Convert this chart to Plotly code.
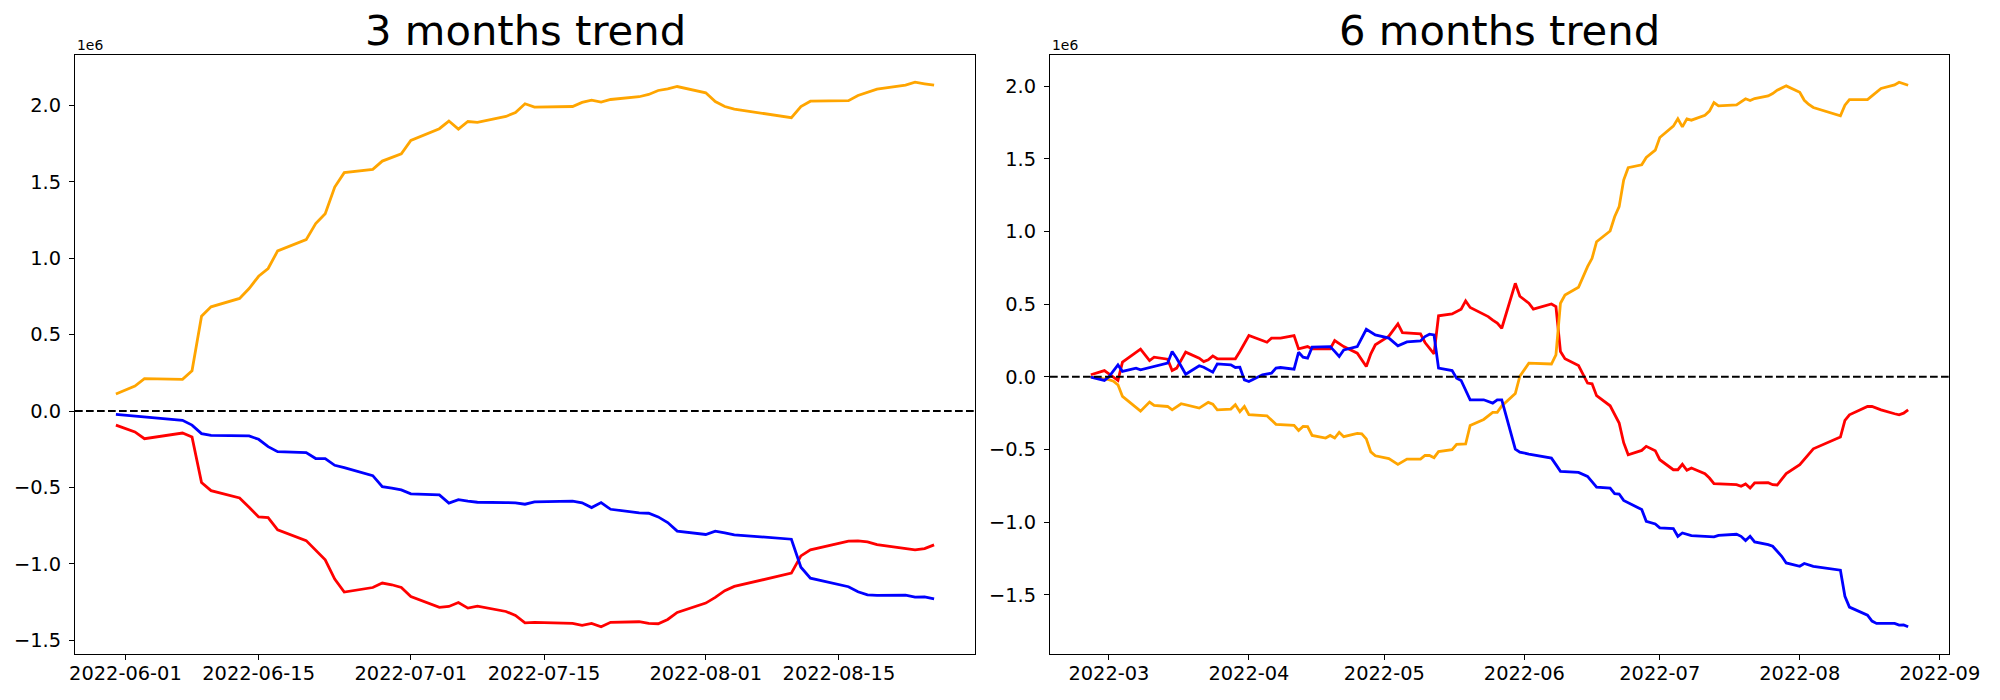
import pandas as pd
import plotly.graph_objects as go

# ---------------- 3 months panel (values in units of 1e6) ----------------
dates_3m = ["2022-05-31", "2022-06-01", "2022-06-02", "2022-06-03", "2022-06-07", "2022-06-08",
            "2022-06-09", "2022-06-10", "2022-06-13", "2022-06-14", "2022-06-15", "2022-06-16",
            "2022-06-17", "2022-06-20", "2022-06-21", "2022-06-22", "2022-06-23", "2022-06-24",
            "2022-06-27", "2022-06-28", "2022-06-29", "2022-06-30", "2022-07-01", "2022-07-04",
            "2022-07-05", "2022-07-06", "2022-07-07", "2022-07-08", "2022-07-11", "2022-07-12",
            "2022-07-13", "2022-07-14", "2022-07-18", "2022-07-19", "2022-07-20", "2022-07-21",
            "2022-07-22", "2022-07-25", "2022-07-26", "2022-07-27", "2022-07-28", "2022-07-29",
            "2022-08-01", "2022-08-02", "2022-08-03", "2022-08-04", "2022-08-10", "2022-08-11",
            "2022-08-12", "2022-08-16", "2022-08-17", "2022-08-18", "2022-08-19", "2022-08-22",
            "2022-08-23", "2022-08-24", "2022-08-25"]

orange_3m = [0.111, 0.137, 0.163, 0.212, 0.207, 0.263, 0.621, 0.682, 0.737, 0.802, 0.882, 0.933,
             1.048, 1.122, 1.227, 1.292, 1.466, 1.560, 1.582, 1.636, 1.658, 1.684, 1.771, 1.848,
             1.898, 1.845, 1.895, 1.889, 1.928, 1.954, 2.011, 1.989, 1.993, 2.020, 2.035, 2.022,
             2.039, 2.057, 2.072, 2.098, 2.109, 2.124, 2.083, 2.026, 1.993, 1.976, 1.920, 1.993,
             2.028, 2.031, 2.065, 2.088, 2.107, 2.133, 2.152, 2.142, 2.133]

blue_3m = [-0.022, -0.027, -0.031, -0.036, -0.061, -0.092, -0.148, -0.159, -0.161, -0.163, -0.185, -0.233,
           -0.266, -0.272, -0.311, -0.311, -0.355, -0.370, -0.423, -0.495, -0.505, -0.516, -0.542, -0.549,
           -0.603, -0.580, -0.590, -0.597, -0.599, -0.601, -0.610, -0.595, -0.590, -0.601, -0.632, -0.599,
           -0.643, -0.667, -0.669, -0.693, -0.730, -0.786, -0.808, -0.786, -0.797, -0.810, -0.839, -1.022,
           -1.094, -1.150, -1.183, -1.203, -1.207, -1.205, -1.218, -1.216, -1.229]

red_3m = [-0.092, -0.114, -0.137, -0.181, -0.144, -0.170, -0.468, -0.521, -0.569, -0.630, -0.693, -0.697,
          -0.778, -0.848, -0.908, -0.974, -1.100, -1.185, -1.155, -1.126, -1.137, -1.155, -1.214, -1.285,
          -1.279, -1.253, -1.290, -1.277, -1.312, -1.338, -1.386, -1.383, -1.390, -1.403, -1.390, -1.412,
          -1.383, -1.379, -1.390, -1.392, -1.364, -1.318, -1.257, -1.220, -1.176, -1.148, -1.061, -0.948,
          -0.908, -0.852, -0.850, -0.856, -0.874, -0.900, -0.908, -0.900, -0.876]

ticks_3m = ["2022-06-01", "2022-06-15", "2022-07-01", "2022-07-15", "2022-08-01", "2022-08-15"]

# ---------------- 6 months panel (values in units of 1e6) ----------------
orange_6m_dates = ["2022-02-25", "2022-02-28", "2022-03-01", "2022-03-02", "2022-03-03", "2022-03-04",
                   "2022-03-08", "2022-03-10", "2022-03-11", "2022-03-14", "2022-03-15", "2022-03-17",
                   "2022-03-21", "2022-03-23", "2022-03-24", "2022-03-25", "2022-03-28", "2022-03-29",
                   "2022-03-30", "2022-03-31", "2022-04-01", "2022-04-05", "2022-04-07", "2022-04-11",
                   "2022-04-12", "2022-04-13", "2022-04-14", "2022-04-15", "2022-04-18", "2022-04-19",
                   "2022-04-20", "2022-04-21", "2022-04-22", "2022-04-25", "2022-04-26", "2022-04-27",
                   "2022-04-28", "2022-04-29", "2022-05-02", "2022-05-04", "2022-05-06", "2022-05-09",
                   "2022-05-10", "2022-05-11", "2022-05-12", "2022-05-13", "2022-05-16", "2022-05-17",
                   "2022-05-19", "2022-05-20", "2022-05-23", "2022-05-25", "2022-05-26", "2022-05-27",
                   "2022-05-30", "2022-05-31", "2022-06-01", "2022-06-02", "2022-06-07", "2022-06-08",
                   "2022-06-09", "2022-06-10", "2022-06-13", "2022-06-15", "2022-06-16", "2022-06-17",
                   "2022-06-20", "2022-06-21", "2022-06-22", "2022-06-23", "2022-06-24", "2022-06-27",
                   "2022-06-28", "2022-06-30", "2022-07-01", "2022-07-04", "2022-07-05", "2022-07-06",
                   "2022-07-07", "2022-07-08", "2022-07-11", "2022-07-12", "2022-07-13", "2022-07-14",
                   "2022-07-18", "2022-07-20", "2022-07-21", "2022-07-22", "2022-07-25", "2022-07-26",
                   "2022-07-27", "2022-07-29", "2022-08-01", "2022-08-02", "2022-08-03", "2022-08-04",
                   "2022-08-10", "2022-08-11", "2022-08-12", "2022-08-16", "2022-08-17", "2022-08-19",
                   "2022-08-22", "2022-08-23", "2022-08-25"]
orange_6m = [0.000, -0.012, -0.020, -0.030, -0.055, -0.135,
             -0.236, -0.174, -0.197, -0.204, -0.227, -0.185,
             -0.215, -0.176, -0.188, -0.227, -0.222, -0.192,
             -0.240, -0.204, -0.261, -0.268, -0.327, -0.334,
             -0.369, -0.341, -0.343, -0.403, -0.421, -0.403,
             -0.421, -0.382, -0.412, -0.389, -0.392, -0.427,
             -0.516, -0.543, -0.563, -0.602, -0.566, -0.566,
             -0.541, -0.541, -0.556, -0.514, -0.501, -0.464,
             -0.462, -0.334, -0.293, -0.245, -0.244, -0.200,
             -0.115, 0.004, 0.048, 0.094, 0.088, 0.151,
             0.506, 0.563, 0.616, 0.758, 0.815, 0.929,
             1.003, 1.101, 1.170, 1.353, 1.438, 1.458,
             1.509, 1.559, 1.646, 1.724, 1.774, 1.719,
             1.774, 1.765, 1.799, 1.827, 1.886, 1.863,
             1.870, 1.912, 1.900, 1.914, 1.932, 1.948,
             1.971, 2.001, 1.957, 1.902, 1.873, 1.852,
             1.795, 1.868, 1.907, 1.907, 1.932, 1.983,
             2.008, 2.026, 2.005]

red_6m_dates = ["2022-02-25", "2022-02-28", "2022-03-01", "2022-03-03", "2022-03-04", "2022-03-08",
                "2022-03-10", "2022-03-11", "2022-03-14", "2022-03-15", "2022-03-16", "2022-03-18",
                "2022-03-21", "2022-03-22", "2022-03-23", "2022-03-24", "2022-03-25", "2022-03-29",
                "2022-03-30", "2022-04-01", "2022-04-05", "2022-04-06", "2022-04-08", "2022-04-11",
                "2022-04-12", "2022-04-14", "2022-04-15", "2022-04-19", "2022-04-20", "2022-04-22",
                "2022-04-25", "2022-04-27", "2022-04-28", "2022-04-29", "2022-05-02", "2022-05-04",
                "2022-05-05", "2022-05-09", "2022-05-10", "2022-05-11", "2022-05-12", "2022-05-13",
                "2022-05-16", "2022-05-18", "2022-05-19", "2022-05-20", "2022-05-24", "2022-05-25",
                "2022-05-26", "2022-05-27", "2022-05-30", "2022-05-31", "2022-06-02", "2022-06-03",
                "2022-06-07", "2022-06-08", "2022-06-09", "2022-06-10", "2022-06-13", "2022-06-15",
                "2022-06-16", "2022-06-17", "2022-06-20", "2022-06-22", "2022-06-23", "2022-06-24",
                "2022-06-27", "2022-06-28", "2022-06-30", "2022-07-01", "2022-07-04", "2022-07-05",
                "2022-07-06", "2022-07-07", "2022-07-08", "2022-07-11", "2022-07-12", "2022-07-13",
                "2022-07-18", "2022-07-19", "2022-07-20", "2022-07-21", "2022-07-22", "2022-07-25",
                "2022-07-26", "2022-07-27", "2022-07-29", "2022-08-01", "2022-08-03", "2022-08-04",
                "2022-08-10", "2022-08-11", "2022-08-12", "2022-08-16", "2022-08-17", "2022-08-19",
                "2022-08-22", "2022-08-23", "2022-08-24", "2022-08-25"]
red_6m = [0.014, 0.043, 0.021, -0.025, 0.101, 0.190,
          0.112, 0.135, 0.121, 0.043, 0.060, 0.170,
          0.128, 0.105, 0.117, 0.144, 0.124, 0.124,
          0.174, 0.284, 0.238, 0.266, 0.266, 0.284,
          0.192, 0.208, 0.192, 0.192, 0.249, 0.208,
          0.163, 0.071, 0.158, 0.220, 0.280, 0.364,
          0.304, 0.295, 0.236, 0.197, 0.158, 0.420,
          0.432, 0.465, 0.522, 0.477, 0.414, 0.390,
          0.369, 0.334, 0.643, 0.554, 0.506, 0.465,
          0.501, 0.483, 0.174, 0.125, 0.077, -0.043,
          -0.048, -0.130, -0.199, -0.318, -0.453, -0.536,
          -0.506, -0.478, -0.508, -0.570, -0.639, -0.639,
          -0.602, -0.643, -0.627, -0.666, -0.696, -0.735,
          -0.742, -0.753, -0.737, -0.765, -0.730, -0.728,
          -0.742, -0.744, -0.666, -0.604, -0.531, -0.495,
          -0.414, -0.300, -0.261, -0.204, -0.204, -0.227,
          -0.254, -0.261, -0.250, -0.227]

blue_6m_dates = ["2022-02-25", "2022-02-28", "2022-03-01", "2022-03-03", "2022-03-04", "2022-03-07",
                 "2022-03-08", "2022-03-14", "2022-03-15", "2022-03-16", "2022-03-18", "2022-03-21",
                 "2022-03-22", "2022-03-24", "2022-03-25", "2022-03-28", "2022-03-29", "2022-03-30",
                 "2022-03-31", "2022-04-01", "2022-04-04", "2022-04-06", "2022-04-07", "2022-04-08",
                 "2022-04-11", "2022-04-12", "2022-04-13", "2022-04-14", "2022-04-15", "2022-04-19",
                 "2022-04-20", "2022-04-21", "2022-04-22", "2022-04-25", "2022-04-27", "2022-04-29",
                 "2022-05-02", "2022-05-04", "2022-05-06", "2022-05-09", "2022-05-10", "2022-05-11",
                 "2022-05-12", "2022-05-13", "2022-05-16", "2022-05-17", "2022-05-18", "2022-05-20",
                 "2022-05-23", "2022-05-25", "2022-05-26", "2022-05-27", "2022-05-30", "2022-05-31",
                 "2022-06-02", "2022-06-07", "2022-06-08", "2022-06-09", "2022-06-13", "2022-06-15",
                 "2022-06-17", "2022-06-20", "2022-06-21", "2022-06-22", "2022-06-23", "2022-06-27",
                 "2022-06-28", "2022-06-30", "2022-07-01", "2022-07-04", "2022-07-05", "2022-07-06",
                 "2022-07-08", "2022-07-13", "2022-07-14", "2022-07-18", "2022-07-19", "2022-07-20",
                 "2022-07-21", "2022-07-22", "2022-07-25", "2022-07-26", "2022-07-28", "2022-07-29",
                 "2022-08-01", "2022-08-02", "2022-08-04", "2022-08-10", "2022-08-11", "2022-08-12",
                 "2022-08-16", "2022-08-17", "2022-08-18", "2022-08-22", "2022-08-23", "2022-08-24",
                 "2022-08-25"]
blue_6m = [-0.002, -0.025, 0.000, 0.082, 0.037, 0.060,
           0.048, 0.094, 0.174, 0.128, 0.018, 0.076,
           0.066, 0.032, 0.089, 0.082, 0.064, 0.066,
           -0.021, -0.032, 0.014, 0.025, 0.060, 0.064,
           0.053, 0.169, 0.135, 0.128, 0.204, 0.208,
           0.175, 0.140, 0.185, 0.208, 0.327, 0.288,
           0.266, 0.213, 0.240, 0.247, 0.277, 0.293,
           0.288, 0.060, 0.043, -0.009, -0.025, -0.158,
           -0.158, -0.181, -0.158, -0.158, -0.497, -0.518,
           -0.531, -0.559, -0.604, -0.650, -0.657, -0.685,
           -0.758, -0.765, -0.804, -0.806, -0.850, -0.913,
           -0.994, -1.012, -1.039, -1.044, -1.097, -1.074,
           -1.092, -1.101, -1.090, -1.083, -1.097, -1.126,
           -1.097, -1.135, -1.154, -1.165, -1.234, -1.280,
           -1.303, -1.284, -1.303, -1.330, -1.509, -1.584,
           -1.639, -1.680, -1.696, -1.696, -1.708, -1.706,
           -1.719]

titles = ["3 months trend", "6 months trend"]
offset_label = "1e6"
ytick_vals = [-1.5, -1.0, -0.5, 0.0, 0.5, 1.0, 1.5, 2.0]

C_ORANGE, C_RED, C_BLUE = "#FFA500", "#FF0000", "#0000FF"
FONT = "DejaVu Sans"


def pad_range(lo, hi, frac=0.05):
    span = hi - lo
    return [lo - frac * span, hi + frac * span]


def pad_dates(dlist, frac=0.05):
    d = pd.to_datetime(dlist)
    lo, hi = d.min(), d.max()
    span = hi - lo
    return [(lo - frac * span).isoformat(), (hi + frac * span).isoformat()]


fig = go.Figure()
lw = 2.8

# left panel
fig.add_trace(go.Scatter(x=dates_3m, y=red_3m, mode="lines", line=dict(color=C_RED, width=lw),
                         xaxis="x", yaxis="y", showlegend=False))
fig.add_trace(go.Scatter(x=dates_3m, y=orange_3m, mode="lines", line=dict(color=C_ORANGE, width=lw),
                         xaxis="x", yaxis="y", showlegend=False))
fig.add_trace(go.Scatter(x=dates_3m, y=blue_3m, mode="lines", line=dict(color=C_BLUE, width=lw),
                         xaxis="x", yaxis="y", showlegend=False))
# right panel
fig.add_trace(go.Scatter(x=red_6m_dates, y=red_6m, mode="lines", line=dict(color=C_RED, width=lw),
                         xaxis="x2", yaxis="y2", showlegend=False))
fig.add_trace(go.Scatter(x=orange_6m_dates, y=orange_6m, mode="lines", line=dict(color=C_ORANGE, width=lw),
                         xaxis="x2", yaxis="y2", showlegend=False))
fig.add_trace(go.Scatter(x=blue_6m_dates, y=blue_6m, mode="lines", line=dict(color=C_BLUE, width=lw),
                         xaxis="x2", yaxis="y2", showlegend=False))

y3 = pad_range(min(orange_3m + blue_3m + red_3m), max(orange_3m + blue_3m + red_3m))
y6 = pad_range(min(orange_6m + blue_6m + red_6m), max(orange_6m + blue_6m + red_6m))
x3 = pad_dates(dates_3m)
x6 = pad_dates(orange_6m_dates + red_6m_dates + blue_6m_dates)

W, H = 2000, 700
top_px, bot_px = 55, 654
ydom = [1 - bot_px / H, 1 - top_px / H]
xdom1 = [75 / W, 975 / W]
xdom2 = [1050 / W, 1949 / W]

axis_common = dict(showline=True, linecolor="black", linewidth=1.1, mirror=True,
                   showgrid=False, zeroline=False, ticks="outside", ticklen=5, tickwidth=1.1,
                   tickcolor="black", tickfont=dict(family=FONT, size=19.4, color="black"),
                   automargin=False)

fig.update_layout(
    width=W, height=H,
    margin=dict(l=0, r=0, t=0, b=0),
    paper_bgcolor="white", plot_bgcolor="white",
    xaxis=dict(domain=xdom1, anchor="y", type="date", range=x3, tickvals=ticks_3m,
               tickformat="%Y-%m-%d", ticklabelstandoff=-3, **axis_common),
    yaxis=dict(domain=ydom, anchor="x", range=y3, tickvals=ytick_vals, tickformat=".1f",
               ticklabelstandoff=4, **axis_common),
    xaxis2=dict(domain=xdom2, anchor="y2", type="date", range=x6, dtick="M1",
                tick0="2022-01-01", tickformat="%Y-%m", ticklabelstandoff=-3, **axis_common),
    yaxis2=dict(domain=ydom, anchor="x2", range=y6, tickvals=ytick_vals, tickformat=".1f",
                ticklabelstandoff=4, **axis_common),
)

# zero reference lines
for xr, yr in (("x domain", "y"), ("x2 domain", "y2")):
    fig.add_shape(type="line", xref=xr, yref=yr, x0=0, x1=1, y0=0, y1=0,
                  line=dict(color="black", width=2.1, dash="7.7px,3.3px"))

# titles and offset texts
for i, (xr, yr) in enumerate((("x domain", "y domain"), ("x2 domain", "y2 domain"))):
    fig.add_annotation(text=titles[i], xref=xr, yref=yr, x=0.5, y=1, xanchor="center",
                       yanchor="bottom", yshift=-2, showarrow=False,
                       font=dict(family=FONT, size=41.7, color="black"))
    fig.add_annotation(text=offset_label, xref=xr, yref=yr, x=0, y=1, xanchor="left",
                       yanchor="bottom", yshift=0, showarrow=False,
                       font=dict(family=FONT, size=13.9, color="black"))

fig.write_html("out.html", config={"displayModeBar": False},
               post_script="document.body.style.margin='0px';document.body.style.overflow='hidden';")
